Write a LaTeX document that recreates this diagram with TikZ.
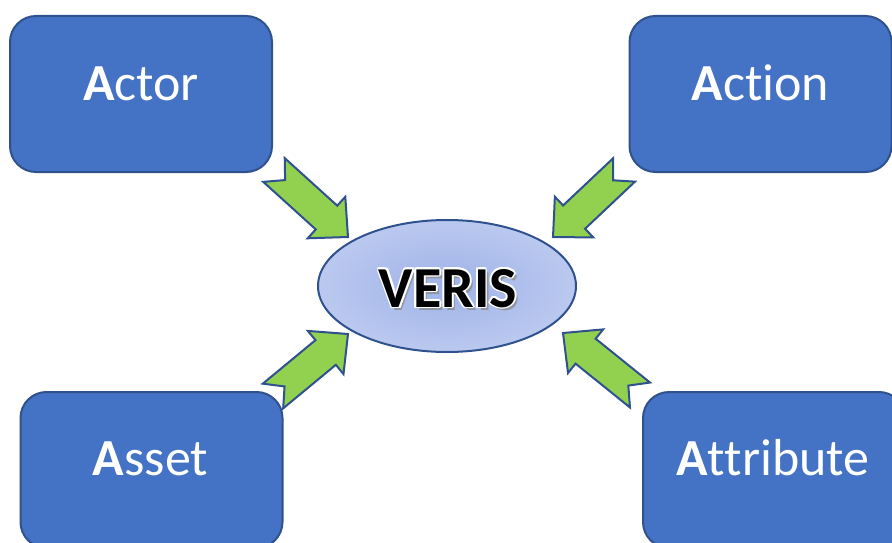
\documentclass[tikz,border=0pt]{standalone}
\usepackage{fontspec}
\setmainfont[Ligatures=NoCommon]{Carlito}
\usetikzlibrary{calc,shapes.geometric}

\definecolor{boxblue}{HTML}{4472C4}
\definecolor{edgeblue}{HTML}{2F528F}
\definecolor{arrowgreen}{HTML}{92D050}
\definecolor{ellin}{RGB}{158,178,232}
\definecolor{ellout}{RGB}{216,224,246}

% soft radial fill for the central ellipse
\pgfdeclareradialshading{verisglow}{\pgfpoint{0bp}{0bp}}{%
  color(0bp)=(ellin); color(50bp)=(ellout); color(75bp)=(ellout)}

\tikzset{
  category/.style={draw=edgeblue, line width=2pt, fill=boxblue,
    rounded corners=26pt, minimum width=262pt, minimum height=156pt,
    inner sep=0pt},
  catlabel/.style={anchor=base, text=white, inner sep=0pt,
    font=\fontsize{52}{60}\selectfont},
  blockarrow/.style={draw=edgeblue, line width=2pt, fill=arrowgreen,
    line join=miter},
  veristext/.style={anchor=base, inner sep=0pt,
    font=\fontsize{58}{66}\selectfont\bfseries},
}

% notched block arrow from a tail coordinate to a tip coordinate
\newcommand{\notchedarrow}[2]{%
  \coordinate (#1-b) at ($(#2)!29pt!(#1)$);
  \draw[blockarrow]
    ($(#1)!16pt!90:(#2)$) -- ($(#1)!15pt!(#2)$) -- ($(#1)!16pt!-90:(#2)$)
    -- ($(#1-b)!16pt!-90:(#2)$) -- ($(#1-b)!28pt!-90:(#2)$)
    -- (#2)
    -- ($(#1-b)!28pt!90:(#2)$) -- ($(#1-b)!16pt!90:(#2)$) -- cycle;
}

\begin{document}
\begin{tikzpicture}[x=1pt, y=-1pt]
  \useasboundingbox (0,0) rectangle (892,543);
  \clip (0,0) rectangle (892,543);

  % the four category boxes
  \node[category] (actor) at (141,94) {};
  \node[category] (action) at (760.5,94) {};
  \node[category] (asset) at (151.5,470) {};
  \node[category] (attribute) at (774,470) {};

  \node[catlabel] (actorlbl) at ($(actor.center)+(0,6)$) {\textbf{A}ctor};
  \node[catlabel] (actionlbl) at ($(action.center)+(0,6)$) {\textbf{A}ction};
  \node[catlabel] (assetlbl) at ($(asset.center)+(-1,5)$) {\textbf{A}sset};
  \node[catlabel] (attributelbl) at ($(attribute.center)+(-1,5)$) {\textbf{A}ttribute};

  % central ellipse
  \node[ellipse, draw=edgeblue, line width=2pt, shading=verisglow,
        minimum width=258pt, minimum height=132pt, inner sep=0pt]
        (veris) at (447,286) {};

  % VERIS lettering: shadow, white outline, black face
  \coordinate (vbase) at (448,307);
  \node[veristext, text=black!45, opacity=0.8] (vshadow) at ($(vbase)+(3,3)$) {VERIS};
  \foreach \a in {0,45,...,315}
    \node[veristext, text=white] at ($(vbase)+(\a:1.8)$) {VERIS};
  \node[veristext, text=black] (veristitle) at (vbase) {VERIS};

  % arrows pointing into the ellipse
  \coordinate (t1) at (274,170); \coordinate (p1) at (348,237);
  \coordinate (t2) at (624,170); \coordinate (p2) at (553,237);
  \coordinate (t3) at (273,396); \coordinate (p3) at (348,334);
  \coordinate (t4) at (640,395); \coordinate (p4) at (563,333);
  \notchedarrow{t1}{p1}
  \notchedarrow{t2}{p2}
  \notchedarrow{t3}{p3}
  \notchedarrow{t4}{p4}
\end{tikzpicture}
\end{document}
